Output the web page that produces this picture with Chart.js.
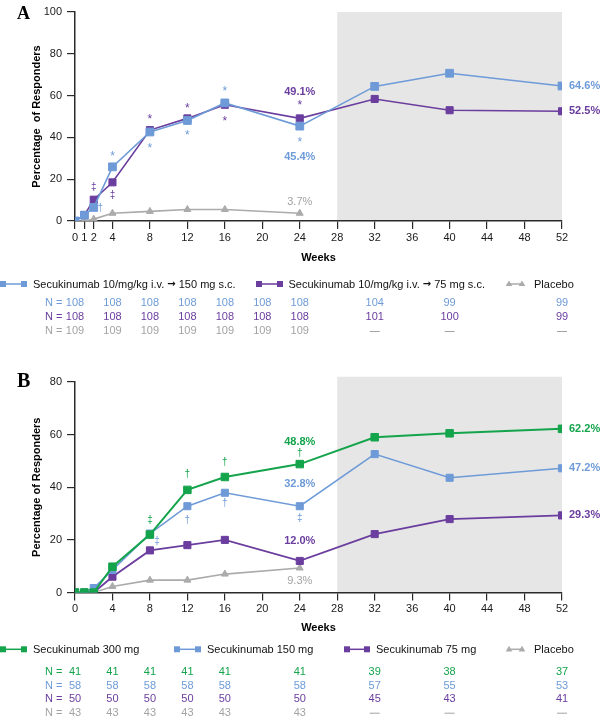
<!DOCTYPE html>
<html><head><meta charset="utf-8">
<script src="https://cdn.jsdelivr.net/npm/chart.js@4.4.0/dist/chart.umd.min.js"></script>
<style>
html,body{margin:0;padding:0;background:#fff;}
#wrap{position:relative;width:602px;height:720px;overflow:hidden;}
canvas{position:absolute;left:0;}
#cA{top:0}
#cB{top:360px}
</style></head><body>
<div id="wrap"><canvas id="cA" width="602" height="360"></canvas><canvas id="cB" width="602" height="360"></canvas></div>
<script>
// ---------------- DATA ----------------
const weeks = [0, 1, 2, 4, 8, 12, 16, 24, 32, 40, 52];
const xTicksA = [0, 1, 2, 4, 8, 12, 16, 20, 24, 28, 32, 36, 40, 44, 48, 52];
const xTicksB = [0, 4, 8, 12, 16, 20, 24, 28, 32, 36, 40, 44, 48, 52];
const yTicksA = [0, 20, 40, 60, 80, 100];
const yTicksB = [0, 20, 40, 60, 80];

// Panel A: % responders
const a150 = [0, 2.8, 6.5, 25.9, 42.6, 48.1, 56.5, 45.4, 64.4, 70.7, 64.6];
const a75 = [0, 2.8, 10.2, 18.5, 43.5, 49.1, 55.6, 49.1, 58.4, 53.0, 52.5];
const aPlacebo = [0, 0, 0.9, 3.7, 4.6, 5.5, 5.5, 3.7, null, null, null];

// Panel B: % responders
const b300 = [0, 0, 0, 9.8, 22.0, 39.0, 43.9, 48.8, 59.0, 60.5, 62.2];
const b150 = [0, 0, 1.7, 8.6, 22.4, 32.8, 37.9, 32.8, 52.6, 43.6, 47.2];
const b75 = [0, 0, 0, 6.0, 16.0, 18.0, 20.0, 12.0, 22.2, 27.9, 29.3];
const bPlacebo = [0, 0, 0, 2.3, 4.7, 4.7, 7.0, 9.3, null, null, null];

// Numbers of patients
const nWeeksA = [0, 4, 8, 12, 16, 20, 24, 32, 40, 52];
const nA150 = [108, 108, 108, 108, 108, 108, 108, 104, 99, 99];
const nA75 = [108, 108, 108, 108, 108, 108, 108, 101, 100, 99];
const nAPlacebo = [109, 109, 109, 109, 109, 109, 109, null, null, null];

const nWeeksB = [0, 4, 8, 12, 16, 24, 32, 40, 52];
const nB300 = [41, 41, 41, 41, 41, 41, 39, 38, 37];
const nB150 = [58, 58, 58, 58, 58, 58, 57, 55, 53];
const nB75 = [50, 50, 50, 50, 50, 50, 45, 43, 41];
const nBPlacebo = [43, 43, 43, 43, 43, 43, null, null, null];

const labelsA = ['Secukinumab 10/mg/kg i.v. \u2192 150 mg s.c.', 'Secukinumab 10/mg/kg i.v. \u2192 75 mg s.c.', 'Placebo'];
const labelsB = ['Secukinumab 300 mg', 'Secukinumab 150 mg', 'Secukinumab 75 mg', 'Placebo'];
const shadeWeeks = [28, 52];

// ---------------- STYLE / LAYOUT ----------------
const FONT = '"Liberation Sans", Arial, Helvetica, sans-serif';
const C = {
  blue: '#6e9bd7', purple: '#6a3d9e', green: '#14a44c', gray: '#ababab',
  grayText: '#a3a3a3', shade: '#e6e6e6', axis: '#2a2a2a', text: '#1a1a1a'
};

// significance symbols: series index, week, symbol, pixel offsets
const symA = [
  {s: 1, w: 2, t: '\u2021', dx: 0, dy: -13},
  {s: 0, w: 2, t: '\u2020', dx: 6.5, dy: 0},
  {s: 0, w: 4, t: '*', dx: 0, dy: -13},
  {s: 1, w: 4, t: '\u2021', dx: 0, dy: 12},
  {s: 1, w: 8, t: '*', dx: 0, dy: -14},
  {s: 0, w: 8, t: '*', dx: 0, dy: 14},
  {s: 1, w: 12, t: '*', dx: 0, dy: -13},
  {s: 0, w: 12, t: '*', dx: 0, dy: 12},
  {s: 0, w: 16, t: '*', dx: 0, dy: -14},
  {s: 1, w: 16, t: '*', dx: 0, dy: 14},
  {s: 1, w: 24, t: '*', dx: 0, dy: -16},
  {s: 0, w: 24, t: '*', dx: 0, dy: 13}
];
const valLabA = [
  {s: 1, w: 24, dy: -26, bold: true},
  {s: 0, w: 24, dy: 31, bold: true},
  {s: 2, w: 24, dy: -11, bold: false}
];
const symB = [
  {s: 0, w: 8, t: '\u2021', dx: 0, dy: -15},
  {s: 1, w: 8, t: '\u2021', dx: 7, dy: 7},
  {s: 0, w: 12, t: '\u2020', dx: 0, dy: -16},
  {s: 1, w: 12, t: '\u2020', dx: 0, dy: 13},
  {s: 0, w: 16, t: '\u2020', dx: 0, dy: -15},
  {s: 1, w: 16, t: '\u2020', dx: 0, dy: 10},
  {s: 0, w: 24, t: '\u2020', dx: 0, dy: -12},
  {s: 1, w: 24, t: '\u2021', dx: 0, dy: 11}
];
const valLabB = [
  {s: 0, w: 24, dy: -22, bold: true},
  {s: 1, w: 24, dy: -22, bold: true},
  {s: 2, w: 24, dy: -20, bold: true},
  {s: 3, w: 24, dy: 13, bold: false}
];

function centeredText(ctx, t, x, y) {
  ctx.textBaseline = 'alphabetic';
  const m = ctx.measureText(t);
  const asc = m.actualBoundingBoxAscent, desc = m.actualBoundingBoxDescent;
  ctx.fillText(t, x, y + (asc - desc) / 2);
}

// legend text: the arrow is drawn in a heavier font like the original
function legendText(ctx, t, x, y) {
  const parts = t.split('\u2192');
  let cx = x;
  parts.forEach((part, i) => {
    ctx.font = '11px ' + FONT;
    ctx.fillText(part, cx, y);
    cx += ctx.measureText(part).width;
    if (i < parts.length - 1) {
      ctx.font = 'bold 10px "DejaVu Sans", sans-serif';
      ctx.fillText('\u2192', cx, y);
      cx += ctx.measureText('\u2192').width;
    }
  });
}

function drawMarker(ctx, style, color, x, y, r) {
  ctx.fillStyle = color;
  if (style === 'triangle') {
    ctx.beginPath();
    ctx.moveTo(x, y - r);
    ctx.lineTo(x + r * 0.95, y + r * 0.6);
    ctx.lineTo(x - r * 0.95, y + r * 0.6);
    ctx.closePath();
    ctx.fill();
  } else {
    ctx.fillRect(x - r, y - r, 2 * r, 2 * r);
  }
}

function makePanel(canvasId, p) {
  const datasets = p.series.map((s) => ({
    label: s.label,
    data: weeks.map((w, i) => ({x: w, y: s.data[i]})).filter(d => d.y !== null),
    borderColor: s.color,
    backgroundColor: s.color,
    pointBackgroundColor: s.color,
    pointBorderColor: s.color,
    pointStyle: s.style,
    pointRadius: s.style === 'triangle' ? 4 : s.radius,
    pointBorderWidth: 1,
    borderWidth: s.width,
    tension: 0,
    fill: false
  }));

  const panelPlugin = {
    id: 'panel' + canvasId,
    beforeDraw(chart) {
      const ctx = chart.ctx, xs = chart.scales.x, ys = chart.scales.y;
      ctx.save();
      ctx.fillStyle = '#ffffff';
      ctx.fillRect(0, 0, chart.width, chart.height);
      const x1 = xs.getPixelForValue(shadeWeeks[0]), x2 = xs.getPixelForValue(shadeWeeks[1]);
      const yt = ys.getPixelForValue(p.shadeTop), yb = ys.getPixelForValue(0);
      ctx.fillStyle = C.shade;
      ctx.fillRect(x1, yt, x2 - x1, yb - yt);
      ctx.restore();
    },
    afterDraw(chart) {
      const ctx = chart.ctx, xs = chart.scales.x, ys = chart.scales.y;
      ctx.save();
      // panel letter
      ctx.fillStyle = '#000';
      ctx.font = 'bold ' + p.letterSize + 'px "Liberation Serif", "Times New Roman", serif';
      ctx.textAlign = 'left';
      ctx.textBaseline = 'alphabetic';
      ctx.fillText(p.letter, 17, p.letterY);

      const valAt = (s, w) => p.series[s].data[weeks.indexOf(w)];
      // significance symbols
      p.symbols.forEach(a => {
        const s = p.series[a.s];
        const x = xs.getPixelForValue(a.w) + a.dx;
        const y = ys.getPixelForValue(valAt(a.s, a.w)) + a.dy;
        ctx.fillStyle = s.textColor;
        ctx.textAlign = 'center';
        ctx.font = (a.t === '*' ? '12px ' : '10px ') + FONT;
        centeredText(ctx, a.t, x, y);
      });
      // value labels at week 24
      p.valLabels.forEach(a => {
        const s = p.series[a.s];
        const v = valAt(a.s, a.w);
        const x = xs.getPixelForValue(a.w);
        const y = ys.getPixelForValue(v) + a.dy;
        ctx.fillStyle = s.textColor;
        ctx.textAlign = 'center';
        ctx.textBaseline = 'middle';
        ctx.font = (a.bold ? 'bold ' : '') + '11px ' + FONT;
        ctx.fillText(v.toFixed(1) + '%', x, y);
      });
      // end labels at week 52
      p.endLabels.forEach(si => {
        const s = p.series[si];
        const v = s.data[s.data.length - 1];
        ctx.fillStyle = s.textColor;
        ctx.textAlign = 'left';
        ctx.textBaseline = 'middle';
        ctx.font = 'bold 11px ' + FONT;
        ctx.fillText(v.toFixed(1) + '%', xs.getPixelForValue(52) + 7, ys.getPixelForValue(v));
      });
      // legend
      p.legend.forEach((L, i) => {
        const s = p.series[i];
        const y = p.legendY;
        ctx.strokeStyle = s.color;
        ctx.lineWidth = 1.5;
        ctx.beginPath();
        ctx.moveTo(L.m1, y); ctx.lineTo(L.m2, y); ctx.stroke();
        drawMarker(ctx, s.style, s.color, L.m1, y, s.style === 'triangle' ? 3.5 : 3);
        drawMarker(ctx, s.style, s.color, L.m2, y, s.style === 'triangle' ? 3.5 : 3);
        ctx.fillStyle = '#111';
        ctx.textAlign = 'left';
        ctx.textBaseline = 'middle';
        legendText(ctx, s.label, L.tx, y + 0.5);
      });
      // N table
      p.nRows.forEach((row, r) => {
        const y = p.nY[r];
        ctx.fillStyle = row.color;
        ctx.font = '11px ' + FONT;
        ctx.textBaseline = 'middle';
        ctx.textAlign = 'left';
        ctx.fillText('N =', xs.left - 30, y);
        ctx.textAlign = 'center';
        p.nWeeks.forEach((w, k) => {
          const v = row.values[k];
          const x = xs.getPixelForValue(w);
          if (v === null) {
            ctx.fillRect(x - 5, y, 10, 1);
          } else {
            ctx.fillText(String(v), x, y);
          }
        });
      });
      ctx.restore();
    }
  };

  const tickFont = {family: FONT, size: 11};
  return new Chart(document.getElementById(canvasId), {
    type: 'line',
    data: {datasets},
    options: {
      responsive: false,
      animation: false,
      devicePixelRatio: 1,
      layout: {padding: {left: 0, right: 40, top: p.padTop, bottom: p.padBottom}},
      plugins: {legend: {display: false}, tooltip: {enabled: false}},
      scales: {
        x: {
          type: 'linear', min: 0, max: 52,
          afterBuildTicks: sc => { sc.ticks = p.xTicks.map(v => ({value: v})); },
          afterFit: sc => { sc.height = p.xHeight; },
          ticks: {font: tickFont, color: C.text, padding: 2, autoSkip: false, maxRotation: 0},
          grid: {drawOnChartArea: false, drawTicks: true, tickLength: 8, color: C.axis, lineWidth: 1.2},
          border: {display: true, color: C.axis, width: 1.5},
          title: {display: true, text: 'Weeks', color: '#000', font: {family: FONT, size: 11, weight: 'bold'}, padding: {top: 0, bottom: 0}}
        },
        y: {
          min: 0, max: p.yMax,
          afterBuildTicks: sc => { sc.ticks = p.yTicks.map(v => ({value: v})); },
          afterFit: sc => { sc.width = 75; },
          ticks: {font: tickFont, color: C.text, padding: 5},
          grid: {drawOnChartArea: false, drawTicks: true, tickLength: 8, color: C.axis, lineWidth: 1.2},
          border: {display: true, color: C.axis, width: 1.5},
          title: {display: true, text: p.yTitle, color: '#000', font: {family: FONT, size: 11, weight: 'bold'}, padding: {top: 30, bottom: 0}}
        }
      }
    },
    plugins: [panelPlugin]
  });
}

makePanel('cA', {
  letter: 'A', letterSize: 18, letterY: 18.5,
  yMax: 100, yTicks: yTicksA, xTicks: xTicksA, shadeTop: 100,
  padTop: 12, padBottom: 95, xHeight: 44,
  yTitle: 'Percentage  of Responders',
  series: [
    {label: labelsA[0], data: a150, color: C.blue, textColor: C.blue, style: 'rect', width: 1.6, radius: 5.5},
    {label: labelsA[1], data: a75, color: C.purple, textColor: C.purple, style: 'rect', width: 1.6, radius: 5},
    {label: labelsA[2], data: aPlacebo, color: C.gray, textColor: C.grayText, style: 'triangle', width: 1.6}
  ],
  symbols: symA, valLabels: valLabA, endLabels: [0, 1],
  legendY: 284,
  legend: [{m1: 3, m2: 24, tx: 33}, {m1: 259, m2: 280, tx: 288.5}, {m1: 509, m2: 522, tx: 534}],
  nWeeks: nWeeksA, nY: [303.3, 317.3, 331],
  nRows: [{values: nA150, color: C.blue}, {values: nA75, color: C.purple}, {values: nAPlacebo, color: C.grayText}]
});

makePanel('cB', {
  letter: 'B', letterSize: 20, letterY: 26.7,
  yMax: 80, yTicks: yTicksB, xTicks: xTicksB, shadeTop: 82,
  padTop: 22, padBottom: 85, xHeight: 42.5,
  yTitle: 'Percentage of Responders',
  series: [
    {label: labelsB[0], data: b300, color: C.green, textColor: C.green, style: 'rect', width: 2, radius: 5.3},
    {label: labelsB[1], data: b150, color: C.blue, textColor: C.blue, style: 'rect', width: 1.6, radius: 5},
    {label: labelsB[2], data: b75, color: C.purple, textColor: C.purple, style: 'rect', width: 1.8, radius: 5},
    {label: labelsB[3], data: bPlacebo, color: C.gray, textColor: C.grayText, style: 'triangle', width: 1.6}
  ],
  symbols: symB, valLabels: valLabB, endLabels: [0, 1, 2],
  legendY: 289.3,
  legend: [{m1: 3, m2: 24, tx: 33}, {m1: 177, m2: 198, tx: 207}, {m1: 347, m2: 367, tx: 376}, {m1: 509, m2: 522, tx: 534}],
  nWeeks: nWeeksB, nY: [311.7, 325.7, 339.3, 352.7],
  nRows: [{values: nB300, color: C.green}, {values: nB150, color: C.blue}, {values: nB75, color: C.purple}, {values: nBPlacebo, color: C.grayText}]
});
</script>
</body></html>
